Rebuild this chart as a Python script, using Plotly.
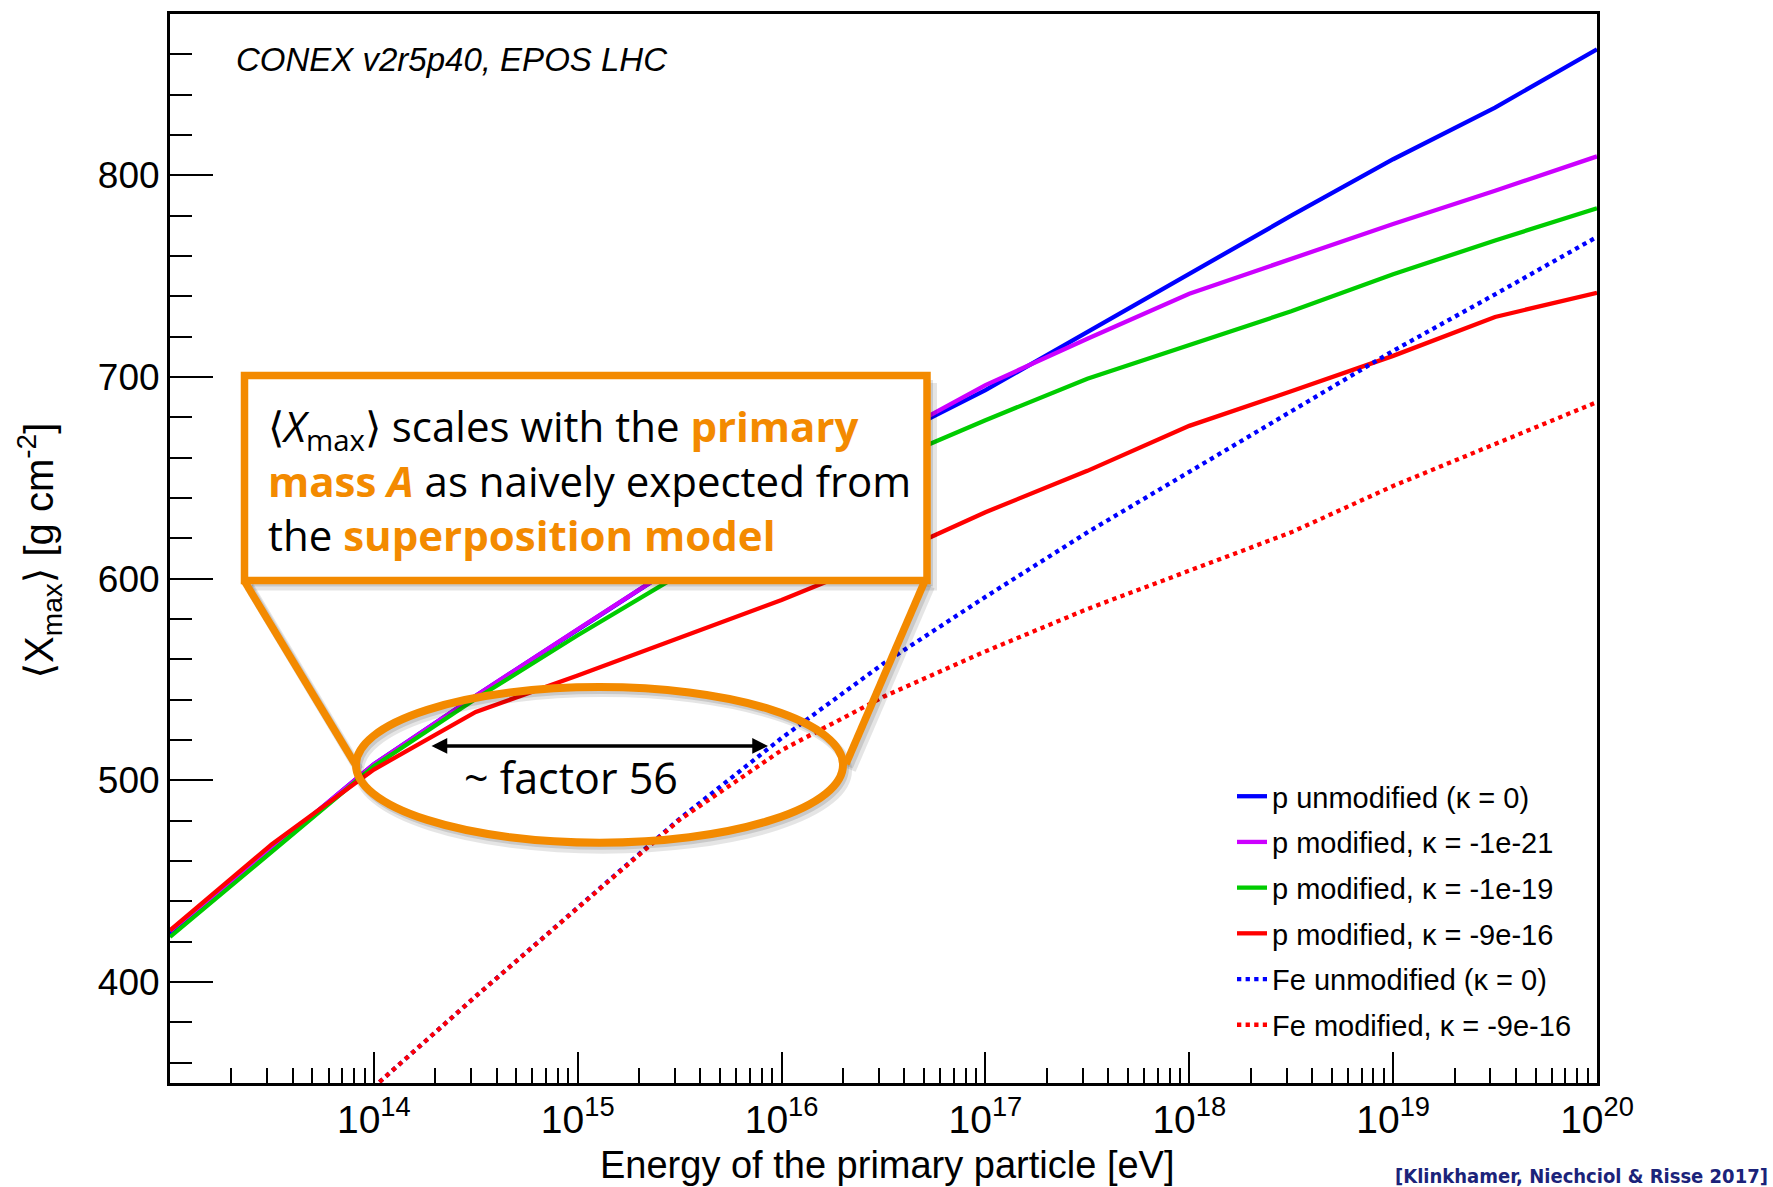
import plotly.graph_objects as go

# ---------------- data ----------------
energy_eV = [1e13, 3.162e13, 1e14, 3.162e14, 1e15, 3.162e15, 1e16, 3.162e16,
             1e17, 3.162e17, 1e18, 3.162e18, 1e19, 3.162e19, 1e20]

xmax_p_unmod = [424.0, 466.0, 508.0, 542.0, 575.0, 607.5, 639.0, 668.0,
                693.5, 722.5, 751.5, 780.0, 808.0, 833.6, 862.5]
xmax_p_k21 = [425.5, 466.0, 508.0, 542.0, 575.0, 607.5, 639.0, 668.5,
              696.0, 719.0, 741.3, 758.6, 775.9, 792.4, 809.4]
xmax_p_k19 = [422.4, 465.0, 507.0, 540.5, 572.0, 602.0, 631.0, 657.0,
              678.6, 699.2, 716.0, 732.6, 751.0, 767.7, 783.7]
xmax_p_k16 = [425.7, 468.4, 505.4, 534.0, 552.0, 571.0, 589.5, 610.0,
              633.0, 653.5, 675.8, 693.0, 710.5, 729.8, 741.8]
xmax_fe_unmod = [262.0, 305.0, 348.0, 393.0, 437.0, 481.0, 521.0, 558.0,
                 591.0, 623.0, 653.0, 683.0, 713.0, 741.0, 769.5]
xmax_fe_k16 = [262.0, 305.0, 348.0, 393.0, 437.0, 480.5, 515.0, 541.5,
               564.0, 585.0, 604.0, 623.0, 646.0, 667.0, 687.6]

series_names = ["p unmodified (κ = 0)", "p modified, κ = -1e-21",
                "p modified, κ = -1e-19", "p modified, κ = -9e-16",
                "Fe unmodified (κ = 0)", "Fe modified, κ = -9e-16"]
series_values = [xmax_p_unmod, xmax_p_k21, xmax_p_k19, xmax_p_k16,
                 xmax_fe_unmod, xmax_fe_k16]
series_colors = ["#0000FF", "#CC00FF", "#00CC00", "#FF0000", "#0000FF", "#FF0000"]
series_dash = ["solid", "solid", "solid", "solid", "dot", "dot"]

x_tick_vals = [1e14, 1e15, 1e16, 1e17, 1e18, 1e19, 1e20]
x_tick_text = ["10<sup>14</sup>", "10<sup>15</sup>", "10<sup>16</sup>", "10<sup>17</sup>",
               "10<sup>18</sup>", "10<sup>19</sup>", "10<sup>20</sup>"]
x_minor_vals = [m * 10.0 ** k for k in range(13, 20) for m in range(2, 10)]

# ---------------- layout helpers ----------------
W, H = 1773, 1187
ML, MR, MT, MB = 170, 176, 11, 104
PW, PH = W - ML - MR, H - MT - MB
ORANGE = "#F38A00"
FONT = "Liberation Sans, Arial, DejaVu Sans, sans-serif"
BOXFONT = "Open Sans, Noto Sans, sans-serif"


def px(X):
    return (X - ML) / PW


def py(Y):
    return (H - MB - Y) / PH


fig = go.Figure()
for name, vals, col, dash in zip(series_names, series_values, series_colors, series_dash):
    fig.add_trace(go.Scatter(
        x=energy_eV, y=vals, mode="lines", name=name, legendgroup=name,
        line=dict(color=col, width=4.3, dash=dash),
    ))

shapes = []


def rect(x0, y0, x1, y1, **kw):
    shapes.append(dict(type="rect", xref="paper", yref="paper", layer="above",
                       x0=px(x0), x1=px(x1), y0=py(y1), y1=py(y0), **kw))


def seg(x0, y0, x1, y1, color, width):
    shapes.append(dict(type="line", xref="paper", yref="paper", layer="above",
                       x0=px(x0), y0=py(y0), x1=px(x1), y1=py(y1),
                       line=dict(color=color, width=width)))


def ell(x0, y0, x1, y1, color, width):
    shapes.append(dict(type="circle", xref="paper", yref="paper", layer="above",
                       x0=px(x0), x1=px(x1), y0=py(y1), y1=py(y0),
                       line=dict(color=color, width=width)))


SH1 = "rgba(0,0,0,0.10)"
SH2 = "rgba(0,0,0,0.12)"
# shadows
seg(249, 585, 359, 769, SH1, 10)
seg(930, 585, 851, 769, SH1, 10)
ell(359, 691, 847, 848, SH1, 10)
seg(247, 582, 357, 766, SH2, 8)
seg(928, 582, 849, 766, SH2, 8)
ell(358, 689, 845, 845, SH2, 8)
rect(252, 381, 937, 589, fillcolor=SH1, line=dict(width=0))
rect(249, 378, 933, 585, fillcolor=SH2, line=dict(width=0))
# connecting lines and ellipse
seg(244, 579, 355, 763, ORANGE, 7.5)
seg(925, 579, 846, 763, ORANGE, 7.5)
ell(356, 686, 843, 842, ORANGE, 8)
# callout box
rect(244.5, 373.5, 927, 579, fillcolor="white", line=dict(color=ORANGE, width=7.5))

annotations = []


def hl(t):
    return "<b><span style='color:%s'>%s</span></b>" % (ORANGE, t)


box_text = ("⟨<i>X</i><sub>max</sub>⟩ scales with the " + hl("primary") + "<br>"
            + hl("mass <i>A</i>") + " as naively expected from<br>"
            + "the " + hl("superposition model"))
annotations.append(dict(xref="paper", yref="paper", x=px(266), y=py(478),
                        xanchor="left", yanchor="middle", align="left", showarrow=False,
                        text=box_text, font=dict(family=BOXFONT, size=42, color="black")))

annotations.append(dict(xref="paper", yref="paper", x=px(571), y=py(777),
                        xanchor="center", yanchor="middle", showarrow=False,
                        text="~ factor 56", font=dict(family=BOXFONT, size=43, color="black")))
# double arrow
annotations.append(dict(xref="paper", yref="paper", x=px(768), y=py(745),
                        axref="pixel", ayref="pixel", ax=-(768 - 430), ay=0,
                        text="", showarrow=True, arrowside="end+start",
                        arrowhead=2, arrowsize=0.9, arrowwidth=3.5, arrowcolor="black",
                        standoff=0, startstandoff=0))
annotations.append(dict(xref="paper", yref="paper", x=px(234), y=py(57),
                        xanchor="left", yanchor="middle", showarrow=False,
                        text="<i>CONEX v2r5p40, EPOS LHC</i>",
                        font=dict(family=FONT, size=33, color="black")))
annotations.append(dict(xref="paper", yref="paper", x=px(40), y=py(549),
                        xanchor="center", yanchor="middle", showarrow=False, textangle=-90,
                        text="⟨X<sub>max</sub>⟩ [g cm<sup>-2</sup>]",
                        font=dict(family=FONT, size=40, color="black")))
annotations.append(dict(xref="paper", yref="paper", x=px(887), y=py(1165),
                        xanchor="center", yanchor="middle", showarrow=False,
                        text="Energy of the primary particle [eV]",
                        font=dict(family=FONT, size=38, color="black")))
annotations.append(dict(xref="paper", yref="paper", x=px(1770), y=py(1176),
                        xanchor="right", yanchor="middle", showarrow=False,
                        text="<b>[Klinkhamer, Niechciol &amp; Risse 2017]</b>",
                        font=dict(family="Liberation Sans Narrow, DejaVu Sans Condensed, sans-serif",
                                  size=20, color="#1B237A")))

fig.update_layout(
    width=W, height=H,
    margin=dict(l=ML, r=MR, t=MT, b=MB, pad=0),
    paper_bgcolor="white", plot_bgcolor="white",
    font=dict(family=FONT, color="black"),
    showlegend=True,
    legend=dict(x=px(1232), y=py(770), xanchor="left", yanchor="top",
                bgcolor="rgba(0,0,0,0)", borderwidth=0,
                font=dict(family=FONT, size=29, color="black"),
                tracegroupgap=5, itemwidth=30),
    shapes=shapes, annotations=annotations,
    xaxis=dict(type="log", range=[13, 20], showgrid=False, zeroline=False,
               showline=True, linecolor="black", linewidth=3, mirror=True,
               ticks="inside", ticklen=31, tickwidth=2, tickcolor="black",
               tickmode="array", tickvals=x_tick_vals, ticktext=x_tick_text,
               tickfont=dict(family=FONT, size=39, color="black"),
               minor=dict(tickmode="array", tickvals=x_minor_vals, ticks="inside",
                          ticklen=15, tickwidth=2, tickcolor="black", showgrid=False)),
    yaxis=dict(range=[350, 880], showgrid=False, zeroline=False,
               showline=True, linecolor="black", linewidth=3, mirror=True,
               ticks="inside", ticklen=43, tickwidth=2, tickcolor="black",
               tick0=0, dtick=100,
               tickfont=dict(family=FONT, size=37, color="black"),
               minor=dict(dtick=20, tick0=0, ticks="inside", ticklen=22,
                          tickwidth=2, tickcolor="black", showgrid=False)),
)

fig.write_html("out.html")
